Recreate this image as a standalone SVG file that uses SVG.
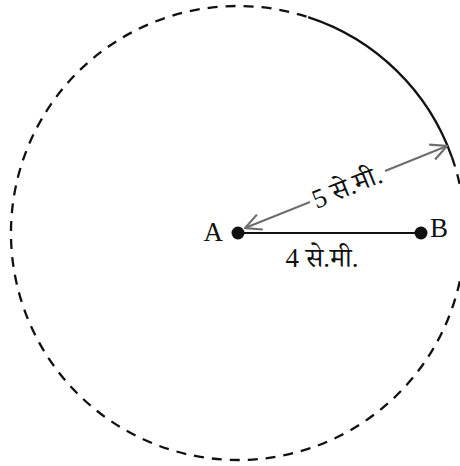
<svg xmlns="http://www.w3.org/2000/svg" width="460" height="466" viewBox="0 0 460 466">
<style>
.lbl{font-family:"Liberation Serif","Noto Serif Devanagari","Noto Sans Devanagari","Lohit Devanagari","FreeSerif",serif;font-size:27px;fill:#111}
.circ{fill:none;stroke:#111;stroke-width:2.3}
.dim{fill:none;stroke:#6d6d6d;stroke-width:2}
</style>
<defs>
<marker id="open" viewBox="0 0 20 20" refX="19" refY="10" markerWidth="20" markerHeight="20" markerUnits="userSpaceOnUse" orient="auto-start-reverse">
<path d="M3,2 L19,10 L3,18" fill="none" stroke="#6d6d6d" stroke-width="2.2"/>
</marker>
</defs>
<rect width="460" height="466" fill="#fff"/>
<g id="circle">
<path class="circ" stroke-dasharray="10 8" d="M451.9,157.1 A227,227 0 1 1 308.1,17.1"/>
<path class="circ" d="M308.1,17.1 A227,227 0 0 1 451.9,157.1"/>
</g>
<g id="connectors">
<line x1="238" y1="233" x2="421" y2="233" stroke="#111" stroke-width="2"/>
<path class="dim" d="M245,228 L310,202" marker-start="url(#open)"/>
<path class="dim" d="M385,171 L447,146" marker-end="url(#open)"/>
</g>
<g id="A">
<circle cx="238" cy="233" r="6.5" fill="#111"/>
<text class="lbl" x="223" y="241" text-anchor="end">A</text>
</g>
<g id="B">
<circle cx="421" cy="233" r="6.5" fill="#111"/>
<text class="lbl" x="430" y="237">B</text>
</g>
<g id="labels">
<text class="lbl" x="322" y="267" text-anchor="middle">4 से.मी.</text>
<text class="lbl" x="347" y="196" text-anchor="middle" transform="rotate(-22 347 187)">5 से.मी.</text>
</g>
</svg>
